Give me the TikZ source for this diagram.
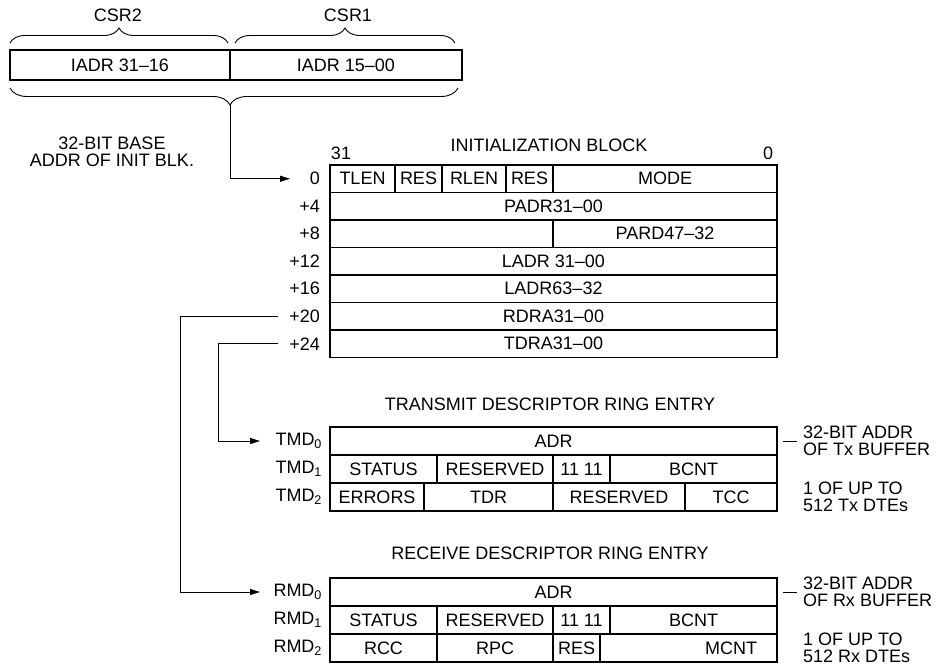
\documentclass[tikz,border=0pt]{standalone}
\usepackage{fontspec}
\setmainfont{Liberation Sans}
\usetikzlibrary{arrows.meta,decorations.pathreplacing}
\newcommand{\cellnode}[6]{%
  \node[cellbox, minimum width={(#3-#2)*1pt}, minimum height={(#5-#4)*1pt}]
    (#1) at ({(#2+#3)/2},{(#4+#5)/2}) {#6};}
\begin{document}
\begin{tikzpicture}[x=1pt,y=-1pt,
  every node/.style={font=\fontsize{18}{17}\selectfont, inner sep=0pt, outer sep=0pt},
  cellbox/.style={draw, line width=1.4pt},
  conn/.style={line width=0.9pt},
  arr/.style={conn, -{Triangle[length=10pt,width=6pt]}},
  brc/.style={decorate, decoration={brace, amplitude=#1}, line width=0.9pt},
  lbl/.style={anchor=east},
  note/.style={anchor=west, align=left},
]
\useasboundingbox (0,0) rectangle (941,666);

% ---- top: CSR registers ----
\node (csr2) at (118,15) {CSR2};
\node (csr1) at (348,15) {CSR1};
\draw[brc=15pt] (10,43) -- (228,43);
\draw[brc=15pt] (235,43) -- (455,43);
\cellnode{iadrhi}{10}{230}{50}{80}{IADR 31–16}
\cellnode{iadrlo}{230}{462}{50}{80}{IADR 15–00}
\draw[brc=17pt, decoration={aspect=0.509}] (458,88) -- (10,88);
\coordinate (btip) at (230,105);

\node[align=center] (basenote) at (112,152) {32-BIT BASE\\ADDR OF INIT BLK.};

% ---- initialization block ----
\node (inittitle) at (549,145) {INITIALIZATION BLOCK};
\node (b31) at (341,153) {31};
\node (b0) at (768,153) {0};

\cellnode{tlen}{330}{395}{165}{192.5}{TLEN}
\cellnode{resa}{395}{442}{165}{192.5}{RES}
\cellnode{rlen}{442}{506}{165}{192.5}{RLEN}
\cellnode{resb}{506}{553}{165}{192.5}{RES}
\cellnode{mode}{553}{777}{165}{192.5}{MODE}
\cellnode{padr}{330}{777}{192.5}{220}{PADR31–00}
\cellnode{parda}{330}{553}{220}{247.5}{}
\cellnode{pardb}{553}{777}{220}{247.5}{PARD47–32}
\cellnode{ladra}{330}{777}{247.5}{275}{LADR 31–00}
\cellnode{ladrb}{330}{777}{275}{302.5}{LADR63–32}
\cellnode{rdra}{330}{777}{302.5}{330}{RDRA31–00}
\cellnode{tdra}{330}{777}{330}{357.5}{TDRA31–00}

\node[lbl] (l0) at (320,178.75) {0};
\node[lbl] (l4) at (320,206.25) {+4};
\node[lbl] (l8) at (320,233.75) {+8};
\node[lbl] (l12) at (320,261.25) {+12};
\node[lbl] (l16) at (320,288.75) {+16};
\node[lbl] (l20) at (320,316.25) {+20};
\node[lbl] (l24) at (320,343.75) {+24};

% ---- transmit descriptor ----
\node (txtitle) at (550,404) {TRANSMIT DESCRIPTOR RING ENTRY};
\cellnode{tadr}{330}{777}{427}{455}{ADR}
\cellnode{tstat}{330}{437}{455}{483}{STATUS}
\cellnode{tres}{437}{553}{455}{483}{RESERVED}
\cellnode{tones}{553}{610}{455}{483}{11 11}
\cellnode{tbcnt}{610}{777}{455}{483}{BCNT}
\cellnode{terr}{330}{424}{483}{511}{ERRORS}
\cellnode{ttdr}{424}{553}{483}{511}{TDR}
\cellnode{tres2}{553}{685}{483}{511}{RESERVED}
\cellnode{ttcc}{685}{777}{483}{511}{TCC}
\node[lbl] (tmd0) at (322,441) {TMD\textsubscript{0}};
\node[lbl] (tmd1) at (322,469) {TMD\textsubscript{1}};
\node[lbl] (tmd2) at (322,497) {TMD\textsubscript{2}};

% ---- receive descriptor ----
\node (rxtitle) at (550,553) {RECEIVE DESCRIPTOR RING ENTRY};
\cellnode{radr}{330}{777}{578}{606}{ADR}
\cellnode{rstat}{330}{437}{606}{634}{STATUS}
\cellnode{rres}{437}{553}{606}{634}{RESERVED}
\cellnode{rones}{553}{610}{606}{634}{11 11}
\cellnode{rbcnt}{610}{777}{606}{634}{BCNT}
\cellnode{rrcc}{330}{437}{634}{662}{RCC}
\cellnode{rrpc}{437}{553}{634}{662}{RPC}
\cellnode{rres2}{553}{600}{634}{662}{RES}
\cellnode{rmcnt}{600}{777}{634}{662}{}
\node[anchor=east] (mcnt) at (757,648) {MCNT};
\node[lbl] (rmd0) at (322,592) {RMD\textsubscript{0}};
\node[lbl] (rmd1) at (322,620) {RMD\textsubscript{1}};
\node[lbl] (rmd2) at (322,648) {RMD\textsubscript{2}};

% ---- notes ----
\coordinate (tla) at (783,441);
\coordinate (tlb) at (797,441);
\draw[conn] (tla) -- (tlb);
\node[note] (txaddr) at (803,441) {32-BIT ADDR\\OF Tx BUFFER};
\node[note] (txcount) at (803,497) {1 OF UP TO\\512 Tx DTEs};
\coordinate (rla) at (783,592);
\coordinate (rlb) at (797,592);
\draw[conn] (rla) -- (rlb);
\node[note] (rxaddr) at (803,592) {32-BIT ADDR\\OF Rx BUFFER};
\node[note] (rxcount) at (803,648) {1 OF UP TO\\512 Rx DTEs};

% ---- connectors ----
\coordinate (in0) at (290,178.75);
\draw[arr] (btip) |- (in0);
\coordinate (s24) at (278,343.75);
\coordinate (c24) at (218,441);
\coordinate (tin) at (260,441);
\draw[arr] (s24) -| (c24) -- (tin);
\coordinate (s20) at (278,316.25);
\coordinate (c20) at (180,592);
\coordinate (rin) at (260,592);
\draw[arr] (s20) -| (c20) -- (rin);
\end{tikzpicture}
\end{document}
